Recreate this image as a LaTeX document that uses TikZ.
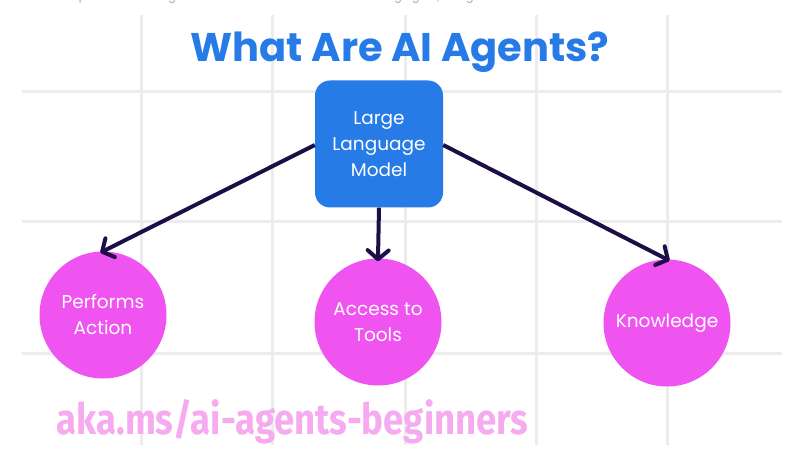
\documentclass[tikz,border=0pt]{standalone}
\usepackage{fontspec}
\setmainfont{Poppins}
\newfontfamily\linkfont{Fira Sans}
\usetikzlibrary{arrows.meta,positioning}
\definecolor{primary}{RGB}{38, 123, 231}
\definecolor{agentpink}{RGB}{240, 84, 240}
\definecolor{arrowdark}{RGB}{30, 14, 72}
\definecolor{linkpink}{RGB}{246, 170, 240}
\definecolor{gridgray}{RGB}{236, 236, 236}

\tikzset{
  llmbox/.style = {
    fill          = primary,
    rounded corners = 15pt,
    minimum width = 128pt,
    minimum height= 127pt,
    text          = white,
    align         = center,
    font          = \fontsize{18.5}{26}\selectfont
  },
  agentcircle/.style = {
    circle,
    fill          = agentpink,
    minimum size  = 127pt,
    text          = white,
    align         = center,
    font          = \fontsize{18.5}{26}\selectfont
  },
  flowarrow/.style = {
    draw          = arrowdark,
    line width    = 4pt,
    shorten >     = -3pt,
    -{Straight Barb[length=9pt,width=21pt,line width=4pt,round]}
  }
}

\begin{document}
\begin{tikzpicture}[x=1pt, y=-1pt]
  \useasboundingbox[fill=white] (0,0) rectangle (800,454);

  % background grid
  \foreach \gx in {141, 272, 405, 536, 667}
    \draw[gridgray, line width=3pt] (\gx,15) -- (\gx,445);
  \foreach \gy in {92, 222, 353}
    \draw[gridgray, line width=3pt] (22,\gy) -- (782,\gy);

  % cut-off caption line at the top
  \begin{scope}
    \clip (0,0) rectangle (800,454);
    \node[text=gray!70, font=\fontsize{11}{13}\selectfont, anchor=base]
      (caption) at (391,1)
      {to perform to change the environment. For the travel booking agent, it might be to book an available room for the user.};
  \end{scope}

  \node[text=primary, font=\fontsize{40}{46}\selectfont\bfseries]
    (title) at (400,52) {What Are AI Agents?};

  \node[llmbox] (llm) at (379,144) {Large\\Language\\Model};

  \node[agentcircle] (action)    at (103,315) {Performs\\Action};
  \node[agentcircle] (tools)     at (378,322) {Access to\\Tools};
  \node[agentcircle] (knowledge) at (667,323) {Knowledge};

  \draw[flowarrow] (llm.west |- 0,145) -- (action.north);
  \draw[flowarrow] (llm.south) -- (tools.north);
  \draw[flowarrow] (llm.east |- 0,145) -- (knowledge.north);

  \node[text=linkpink, font=\linkfont\fontsize{43}{48}\selectfont\bfseries, anchor=base west]
    (link) at (53,434) {\scalebox{0.85}[1]{aka.ms/ai-agents-beginners}};
\end{tikzpicture}
\end{document}
